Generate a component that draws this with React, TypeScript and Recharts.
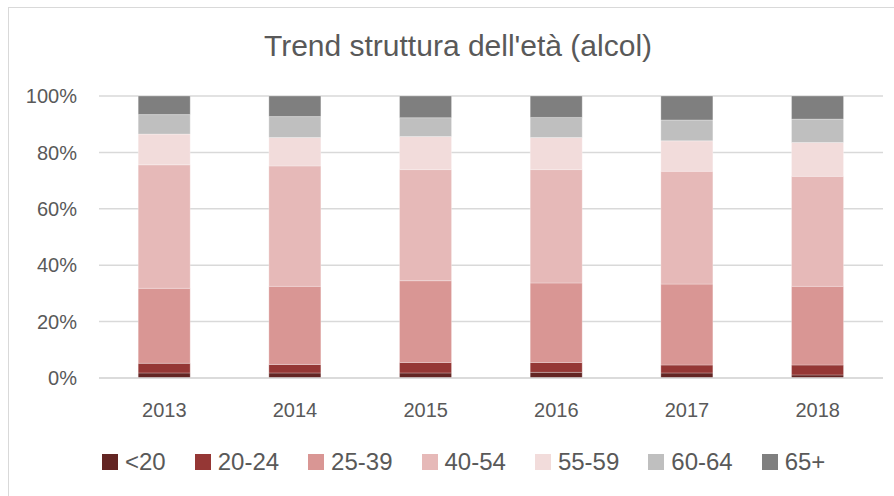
import { BarChart, Bar, XAxis, YAxis, CartesianGrid } from "recharts";

const years = ["2013", "2014", "2015", "2016", "2017", "2018"];

const under20 = [1.8, 1.8, 1.8, 2.0, 1.8, 1.1];
const age20to24 = [3.4, 3.0, 3.7, 3.5, 2.8, 3.5];
const age25to39 = [26.6, 27.7, 29.0, 28.2, 28.7, 27.9];
const age40to54 = [43.8, 42.7, 39.4, 40.2, 40.0, 39.0];
const age55to59 = [10.9, 10.1, 11.7, 11.4, 10.8, 12.0];
const age60to64 = [6.9, 7.4, 6.7, 7.1, 7.4, 8.3];
const age65plus = [6.6, 7.3, 7.7, 7.6, 8.5, 8.2];

const yTicks = [0, 0.2, 0.4, 0.6, 0.8, 1];

const series = [
  { key: "<20", values: under20, color: "#632523" },
  { key: "20-24", values: age20to24, color: "#953735" },
  { key: "25-39", values: age25to39, color: "#d99694" },
  { key: "40-54", values: age40to54, color: "#e6b9b8" },
  { key: "55-59", values: age55to59, color: "#f2dcdb" },
  { key: "60-64", values: age60to64, color: "#bfbfbf" },
  { key: "65+", values: age65plus, color: "#7f7f7f" },
];

const data = years.map((year, i) => {
  const row: Record<string, string | number> = { year };
  series.forEach((s) => {
    row[s.key] = s.values[i];
  });
  return row;
});

const font = '"Liberation Sans", Arial, sans-serif';
const textColor = "#595959";

export default function App() {
  return (
    <div
      style={{
        position: "fixed",
        left: 0,
        top: 0,
        width: 894,
        height: 496,
        background: "#fff",
        fontFamily: font,
        overflow: "hidden",
      }}
    >
      <div
        style={{
          position: "absolute",
          left: 8,
          top: 7,
          width: 894,
          height: 496,
          border: "1px solid #d9d9d9",
        }}
      />
      <div
        style={{
          position: "absolute",
          left: 0,
          width: 916,
          top: 28,
          textAlign: "center",
          fontSize: 30,
          color: textColor,
          lineHeight: "36px",
        }}
      >
        Trend struttura dell'età (alcol)
      </div>
      <div style={{ position: "absolute", left: 0, top: 0 }}>
        <BarChart
          width={894}
          height={496}
          data={data}
          stackOffset="expand"
          barCategoryGap="30%"
          margin={{ top: 96, right: 11, bottom: 88, left: 9 }}
        >
          <CartesianGrid vertical={false} stroke="#d9d9d9" strokeWidth={1.5} />
          <XAxis
            dataKey="year"
            height={30}
            axisLine={{ stroke: "#d9d9d9", strokeWidth: 1.5 }}
            tickLine={false}
            tickSize={0}
            tickMargin={25}
            tick={{ fill: textColor, fontSize: 20, fontFamily: font }}
          />
          <YAxis
            width={90}
            domain={[0, 1]}
            ticks={yTicks}
            axisLine={false}
            tickLine={false}
            tickSize={0}
            tickMargin={22}
            tickFormatter={(v) => `${Math.round(v * 100)}%`}
            tick={{ fill: textColor, fontSize: 20, fontFamily: font }}
          />
          {series.map((s) => (
            <Bar
              key={s.key}
              dataKey={s.key}
              stackId="a"
              fill={s.color}
              stroke="rgba(255,255,255,0.45)"
              strokeWidth={0.6}
              isAnimationActive={false}
            />
          ))}
        </BarChart>
      </div>
      <div
        style={{
          position: "absolute",
          left: 102,
          top: 447,
          display: "flex",
          alignItems: "center",
          fontSize: 24,
          color: textColor,
          lineHeight: "30px",
        }}
      >
        {series.map((s) => (
          <div
            key={s.key}
            style={{ display: "flex", alignItems: "center", marginRight: 29 }}
          >
            <span
              style={{
                display: "inline-block",
                width: 16,
                height: 16,
                background: s.color,
                marginRight: 7,
              }}
            />
            <span>{s.key}</span>
          </div>
        ))}
      </div>
    </div>
  );
}
